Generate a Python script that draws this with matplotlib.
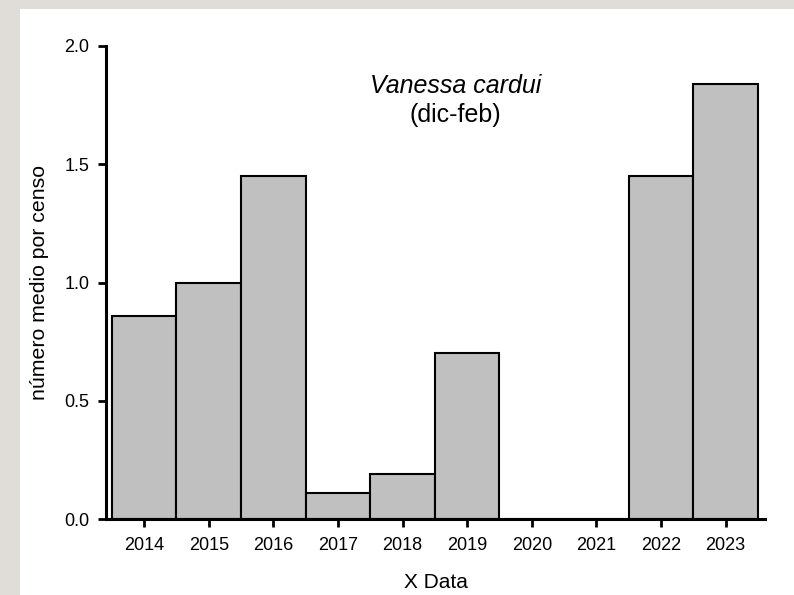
import numpy as np
import matplotlib
matplotlib.use('Agg')
import matplotlib.pyplot as plt
from matplotlib.patches import Rectangle

# dati
anni = [2014, 2015, 2016, 2017, 2018, 2019, 2020, 2021, 2022, 2023]
numero_medio = [0.86, 1.0, 1.45, 0.11, 0.19, 0.70, 0.0, 0.0, 1.45, 1.84]
yticks = [0.0, 0.5, 1.0, 1.5, 2.0]

plt.rcParams['font.family'] = ['Liberation Sans', 'DejaVu Sans']

fig = plt.figure(figsize=(7.94, 5.95), dpi=100)
fig.patch.set_facecolor('#e0ddd8')
# pannello bianco sopra lo sfondo grigio
fig.patches.append(Rectangle((20 / 794, 0), 1, 1 - 9 / 595, transform=fig.transFigure,
                             facecolor='white', edgecolor='none', zorder=-10))

ax = fig.add_axes([106 / 794, 1 - 519 / 595, (765 - 106) / 794, (519 - 46) / 595])
ax.set_facecolor('none')
ax.set_zorder(5)

ax.bar(anni, numero_medio, width=1.0, color='#c0c0c0', edgecolor='black', linewidth=1.5)

ax.set_xlim(2013.41, 2023.61)
ax.set_ylim(0, 2.0)
ax.set_xticks(anni)
ax.set_yticks(yticks)
ax.set_yticklabels(['%.1f' % v for v in yticks])

for s in ['top', 'right']:
    ax.spines[s].set_visible(False)
for s in ['left', 'bottom']:
    ax.spines[s].set_linewidth(2.2)

ax.tick_params(axis='y', direction='out', length=6, width=2, labelsize=13, pad=6)
ax.tick_params(axis='x', direction='out', length=6, width=2, labelsize=13, pad=7)

ax.set_xlabel('X Data', fontsize=15, labelpad=14)
ax.set_ylabel('número medio por censo', fontsize=15.3, labelpad=11)

ax.text(0.53, 0.915, 'Vanessa cardui', transform=ax.transAxes, fontsize=18,
        style='italic', ha='center', va='center')
ax.text(0.53, 0.855, '(dic-feb)', transform=ax.transAxes, fontsize=18,
        ha='center', va='center')

fig.savefig('out.png', dpi=100, facecolor=fig.get_facecolor())
